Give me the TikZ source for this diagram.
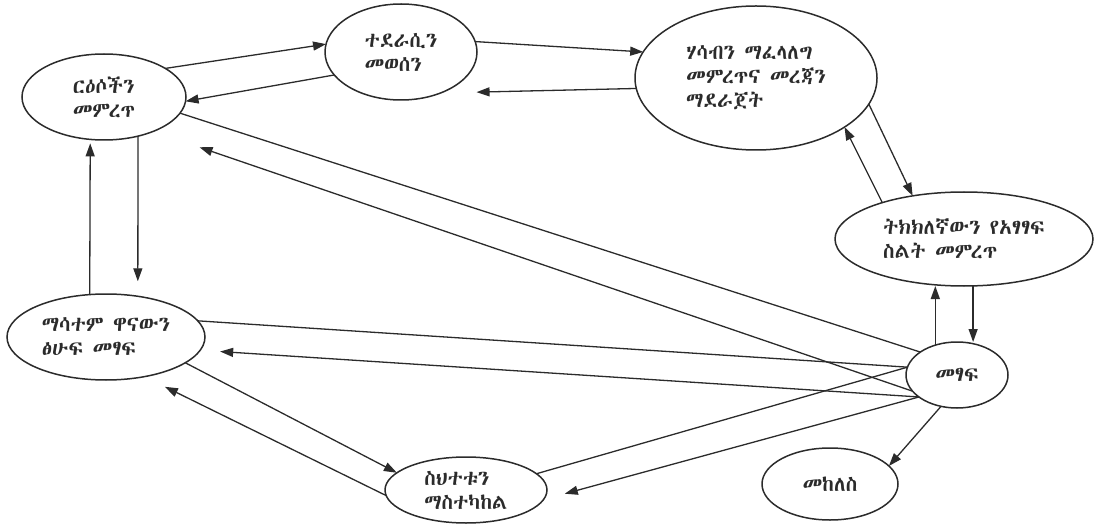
\documentclass[tikz,border=0pt]{standalone}
\usepackage{fontspec}
\usepackage{tikz}
\usetikzlibrary{arrows.meta,shapes.geometric}
\definecolor{c2B2B2B}{RGB}{43,43,43}
\IfFontExistsTF{Abyssinica SIL}{\newfontfamily\ethfont{Abyssinica SIL}}{%
  \newfontfamily\ethfont{DejaVu Sans}}

\begin{document}
\begin{tikzpicture}[x=1pt,y=1pt,yscale=-1, inner sep=0pt, outer sep=0pt,
    stage/.style={ellipse, draw=c2B2B2B, line width=1.5pt, align=left,
      text=c2B2B2B, font=\ethfont\fontsize{21}{24}\selectfont},
    arr/.style={draw=c2B2B2B, line width=1.3pt,
      -{Triangle[length=13pt,width=9pt]}},
    ln/.style={draw=c2B2B2B, line width=1.3pt}]
  \useasboundingbox (0,0) rectangle (1102,529);

  % stages
  \node[stage, minimum width=164pt, minimum height=86pt] (topic) at (104,97)
    {ርዕሶችን\\መምረጥ};
  \node[stage, minimum width=152pt, minimum height=96pt] (aud) at (401,52)
    {ተደራሲን\\መወሰን};
  \node[stage, minimum width=242pt, minimum height=144pt] (ideas) at (756,78)
    {ሃሳብን ማፈላለግ\\መምረጥና መረጃን\\ማደራጀት};
  \node[stage, minimum width=258pt, minimum height=94pt] (style) at (964,239)
    {ትክክለኛውን የአፃፃፍ\\ስልት መምረጥ};
  \node[stage, minimum width=198pt, minimum height=86pt] (publ) at (106,337)
    {ማሳተም ዋናውን\\ፅሁፍ መፃፍ};
  \node[stage, minimum width=162pt, minimum height=66pt] (errs) at (466,490)
    {ስህተቱን\\ማስተካከል};
  \node[stage, minimum width=102pt, minimum height=66pt] (write) at (957,375)
    {መፃፍ};
  \node[stage, minimum width=136pt, minimum height=72pt] (revise) at (830,484)
    {መከለስ};

  % top row
  \draw[arr] (topic.25) -- (aud.174);
  \draw[arr] (aud.199) -- (topic.357);
  \draw[arr] (aud.8) -- (ideas.167);
  \draw[arr, shorten >=36pt] (ideas.185) -- (aud.314);
  \draw[arr] (ideas.347) -- (style.140);
  \draw[arr] (style.156) -- (ideas.331);
  \draw[arr] (style.281) -- (style.281 |- write.north);
  \draw[arr] (write.126) -- (write.126 |- style.south);

  % left side
  \draw[arr, shorten >=15pt] (topic.311) -- (publ.52);
  \draw[arr, shorten >=4pt] (publ.111) -- (topic.252);
  \draw[ln] (topic.348) -- (write.148);
  \draw[arr, shorten >=49pt] (write.200) -- (topic.325);
  \draw[ln] (publ.10) -- (write.171);
  \draw[arr, shorten >=20pt] (write.210) -- (publ.352);
  \draw[arr] (publ.342) -- (errs.166);
  \draw[arr, shorten >=23pt] (errs.184) -- (publ.314);

  % bottom
  \draw[ln] (errs.13) -- (write.171);
  \draw[arr, shorten >=22pt] (write.210) -- (errs.353);
  \draw[arr] (write.243) -- (revise.17);
\end{tikzpicture}
\end{document}
